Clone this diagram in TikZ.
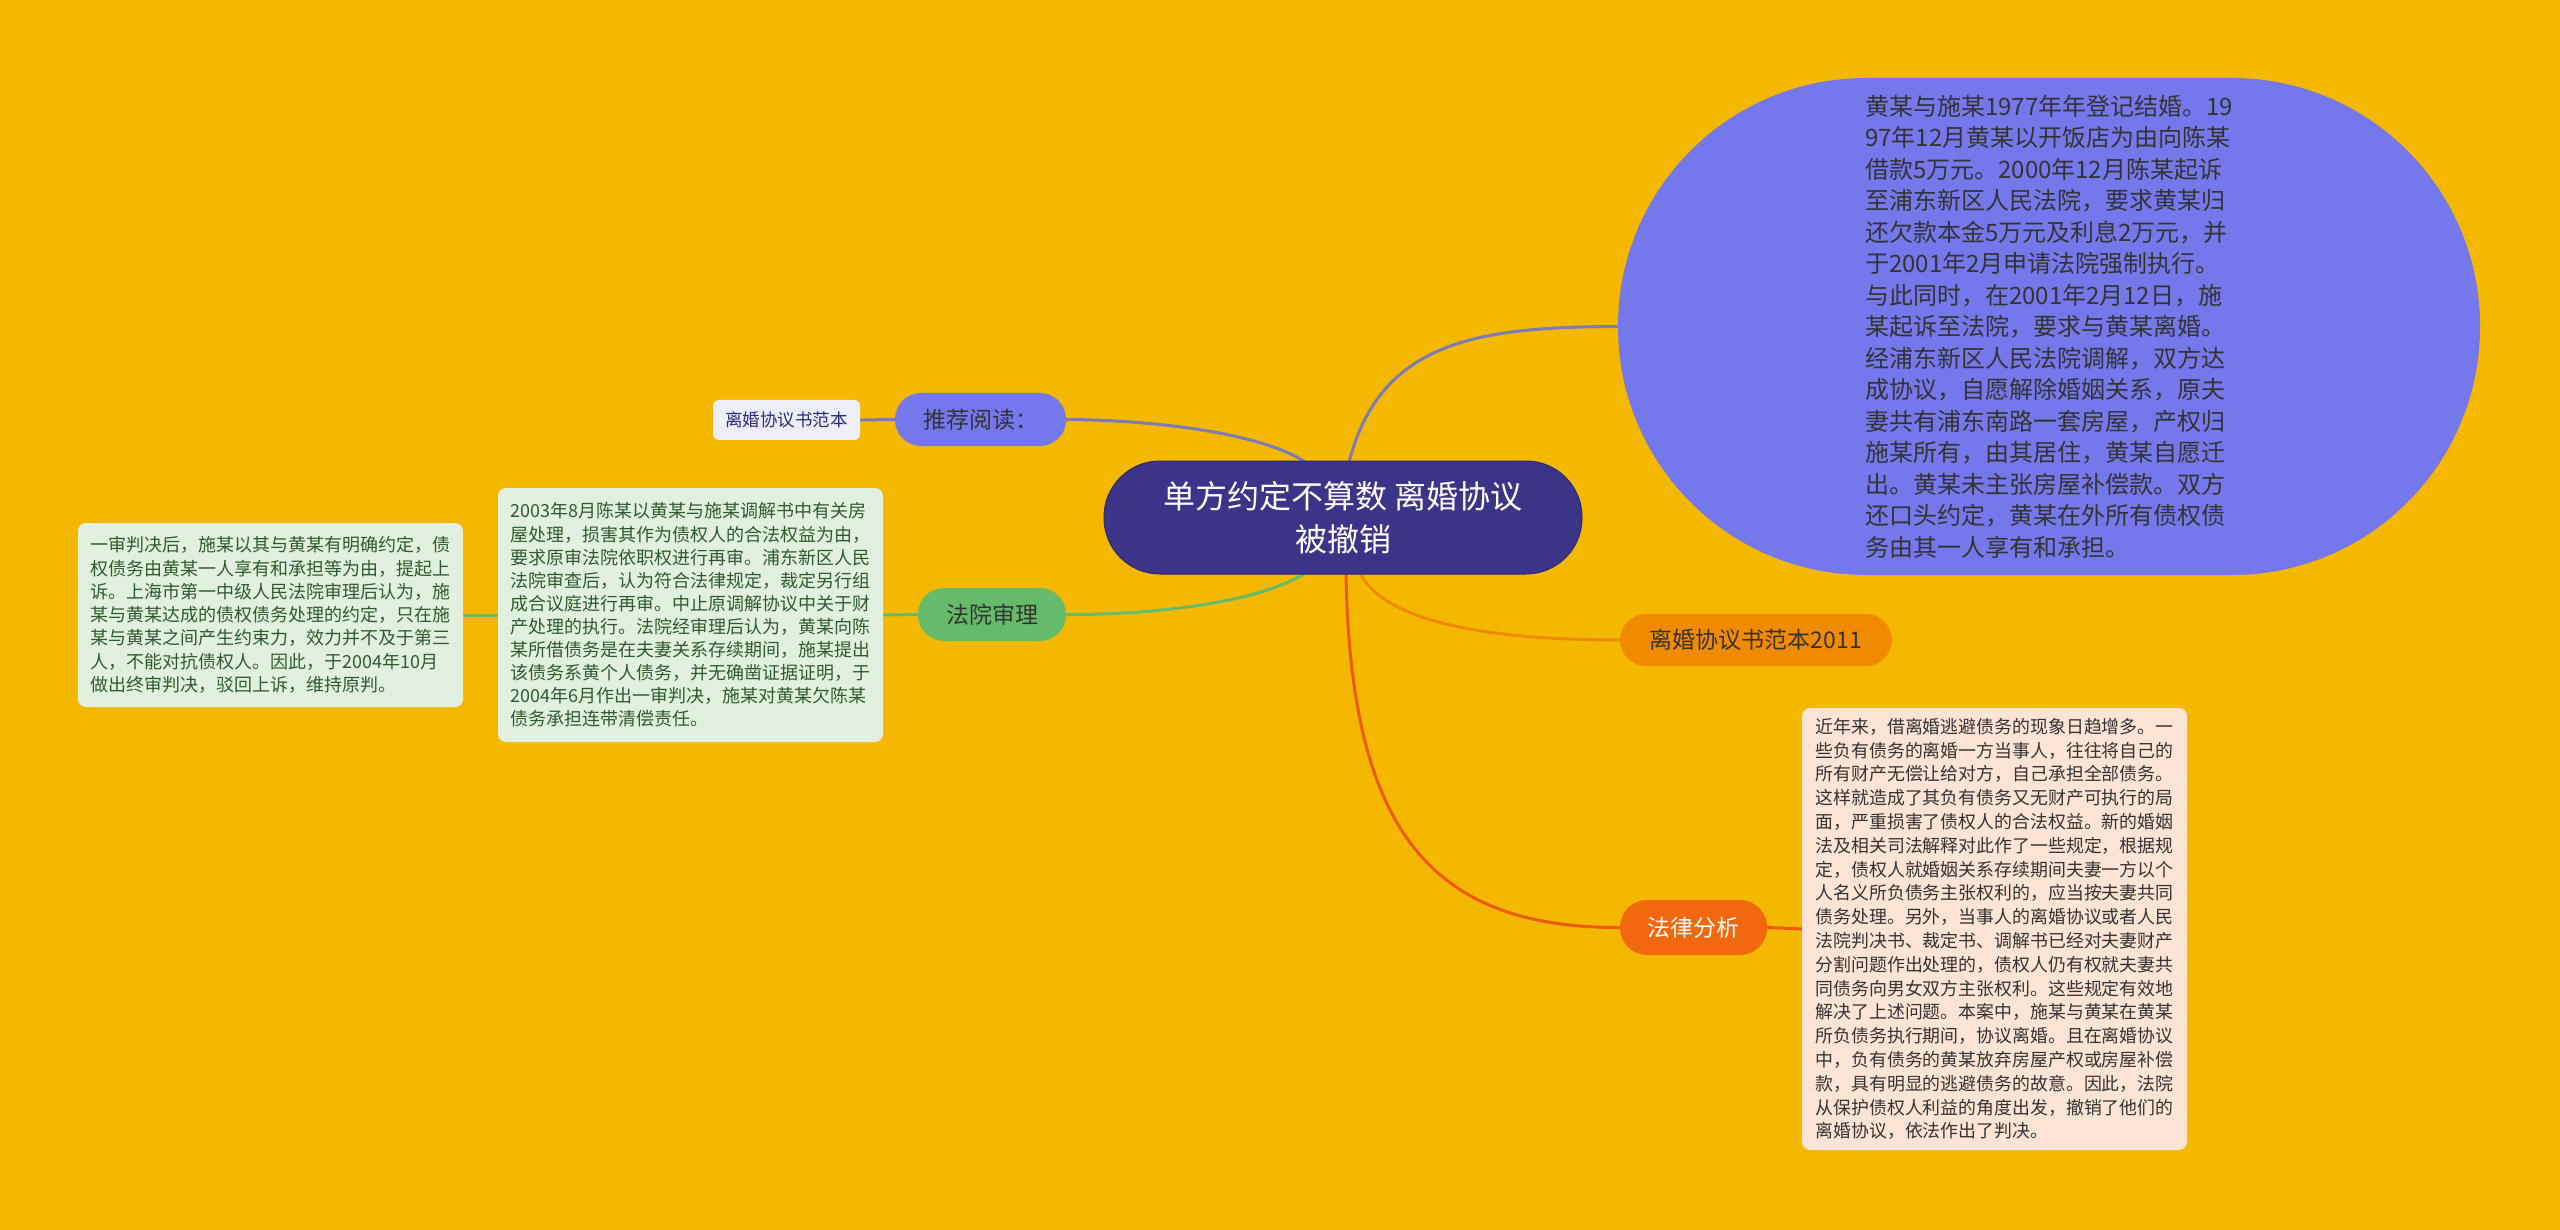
\documentclass[tikz,border=0pt]{standalone}
\usepackage{fontspec}
\setmainfont{Noto Sans CJK SC}
\usetikzlibrary{calc}
\pgfdeclarelayer{bgl}
\pgfdeclarelayer{edges}
\pgfsetlayers{bgl,edges,main}
\definecolor{bgc}{HTML}{F5B800}
\definecolor{ctrfill}{HTML}{3C3489}
\definecolor{ctrdraw}{HTML}{2E2873}
\definecolor{blufill}{HTML}{7478EA}
\definecolor{lavfill}{HTML}{EEEEF8}
\definecolor{lavtext}{HTML}{2A2A80}
\definecolor{grnfill}{HTML}{66BB6A}
\definecolor{grnbox}{HTML}{E2F1DF}
\definecolor{grntext}{HTML}{2E5B2E}
\definecolor{orgfill}{HTML}{F08B00}
\definecolor{redfill}{HTML}{F2680E}
\definecolor{peach}{HTML}{FDE4D4}
\definecolor{darktext}{HTML}{333333}
\definecolor{purline}{HTML}{7C7BB8}
\definecolor{grnline}{HTML}{66BB6A}
\definecolor{orgline}{HTML}{EE8A00}
\definecolor{redline}{HTML}{EE5A0A}
\begin{document}
\begin{tikzpicture}[x=1pt,y=-1pt,
  box/.style={inner sep=0pt, align=left},
  pill/.style={inner sep=0pt, align=center, font=\fontsize{23}{28}\selectfont},
  conn/.style={line width=3pt}
]
\begin{pgfonlayer}{bgl}
\fill[bgc] (0,0) rectangle (2560,1230);
\end{pgfonlayer}
\useasboundingbox (0,0) rectangle (2560,1230);

% central node
\node[box, align=center, fill=ctrfill, draw=ctrdraw, line width=1pt, rounded corners=56pt,
  minimum width=478pt, minimum height=113pt, text=white,
  font=\fontsize{32}{43}\selectfont] (ctr) at (1343,517.5) {单方约定不算数 离婚协议\\被撤销};

% right side
\node[box, fill=blufill, rounded corners=248pt, minimum width=862pt, minimum height=497pt,
  text=darktext, font=\fontsize{24}{31.5}\selectfont] (ell) at (2049,326.5) {黄某与施某1977年年登记结婚。19\\
97年12月黄某以开饭店为由向陈某\\
借款5万元。2000年12月陈某起诉\\
至浦东新区人民法院，要求黄某归\\
还欠款本金5万元及利息2万元，并\\
于2001年2月申请法院强制执行。\\
与此同时，在2001年2月12日，施\\
某起诉至法院，要求与黄某离婚。\\
经浦东新区人民法院调解，双方达\\
成协议，自愿解除婚姻关系，原夫\\
妻共有浦东南路一套房屋，产权归\\
施某所有，由其居住，黄某自愿迁\\
出。黄某未主张房屋补偿款。双方\\
还口头约定，黄某在外所有债权债\\
务由其一人享有和承担。};

\node[pill, fill=orgfill, rounded corners=26pt, minimum width=272pt, minimum height=52pt,
  text=darktext] (fb) at (1756,640) {离婚协议书范本2011};

\node[pill, fill=redfill, rounded corners=27pt, minimum width=147pt, minimum height=55pt,
  text=white] (fl) at (1693.5,927.5) {法律分析};

\node[box, fill=peach, rounded corners=8pt, minimum width=385pt, minimum height=442pt,
  text=darktext, font=\fontsize{17.9}{23.8}\selectfont] (pb) at (1994.5,929) {近年来，借离婚逃避债务的现象日趋增多。一\\
些负有债务的离婚一方当事人，往往将自己的\\
所有财产无偿让给对方，自己承担全部债务。\\
这样就造成了其负有债务又无财产可执行的局\\
面，严重损害了债权人的合法权益。新的婚姻\\
法及相关司法解释对此作了一些规定，根据规\\
定，债权人就婚姻关系存续期间夫妻一方以个\\
人名义所负债务主张权利的，应当按夫妻共同\\
债务处理。另外，当事人的离婚协议或者人民\\
法院判决书、裁定书、调解书已经对夫妻财产\\
分割问题作出处理的，债权人仍有权就夫妻共\\
同债务向男女双方主张权利。这些规定有效地\\
解决了上述问题。本案中，施某与黄某在黄某\\
所负债务执行期间，协议离婚。且在离婚协议\\
中，负有债务的黄某放弃房屋产权或房屋补偿\\
款，具有明显的逃避债务的故意。因此，法院\\
从保护债权人利益的角度出发，撤销了他们的\\
离婚协议，依法作出了判决。};

% left side
\node[pill, fill=blufill, rounded corners=26pt, minimum width=171pt, minimum height=53pt,
  text=darktext] (tj) at (980.5,419.5) {推荐阅读：};

\node[pill, fill=lavfill, rounded corners=6pt, minimum width=147pt, minimum height=40pt,
  text=lavtext, font=\fontsize{17.5}{22}\selectfont] (sm) at (786.5,420) {离婚协议书范本};

\node[pill, fill=grnfill, rounded corners=26pt, minimum width=148pt, minimum height=53pt,
  text=darktext] (fy) at (992,614.5) {法院审理};

\node[box, fill=grnbox, rounded corners=8pt, minimum width=385pt, minimum height=254pt,
  text=grntext, font=\fontsize{18}{23.1}\selectfont] (mb) at (690.5,615) {2003年8月陈某以黄某与施某调解书中有关房\\
屋处理，损害其作为债权人的合法权益为由，\\
要求原审法院依职权进行再审。浦东新区人民\\
法院审查后，认为符合法律规定，裁定另行组\\
成合议庭进行再审。中止原调解协议中关于财\\
产处理的执行。法院经审理后认为，黄某向陈\\
某所借债务是在夫妻关系存续期间，施某提出\\
该债务系黄个人债务，并无确凿证据证明，于\\
2004年6月作出一审判决，施某对黄某欠陈某\\
债务承担连带清偿责任。};

\node[box, fill=grnbox, rounded corners=8pt, minimum width=385pt, minimum height=184pt,
  text=grntext, font=\fontsize{18}{23.3}\selectfont] (lb) at (270.5,615) {一审判决后，施某以其与黄某有明确约定，债\\
权债务由黄某一人享有和承担等为由，提起上\\
诉。上海市第一中级人民法院审理后认为，施\\
某与黄某达成的债权债务处理的约定，只在施\\
某与黄某之间产生约束力，效力并不及于第三\\
人，不能对抗债权人。因此，于2004年10月\\
做出终审判决，驳回上诉，维持原判。};

% connectors
\begin{pgfonlayer}{edges}
\draw[conn, purline] ($(ctr.north)+(6,2)$) .. controls (1380,340) and (1480,327) .. (ell.west);
\draw[conn, purline] ($(ctr.north)+(-37,2)$) .. controls (1260,432) and (1150,420) .. (tj.east);
\draw[conn, purline] (tj.west) -- (sm.east);
\draw[conn, grnline] ($(ctr.south)+(-37,-2)$) .. controls (1260,603) and (1150,615) .. (fy.east);
\draw[conn, grnline] (fy.west) -- (mb.east);
\draw[conn, grnline] (mb.west) -- (lb.east);
\draw[conn, orgline] ($(ctr.south)+(17,-2)$) .. controls (1385,625) and (1500,640) .. (fb.west);
\draw[conn, redline] ($(ctr.south)+(3,-2)$) .. controls (1350,830) and (1430,928) .. (fl.west);
\draw[conn, redline] (fl.east) -- (pb.west);
\end{pgfonlayer}
\end{tikzpicture}
\end{document}
